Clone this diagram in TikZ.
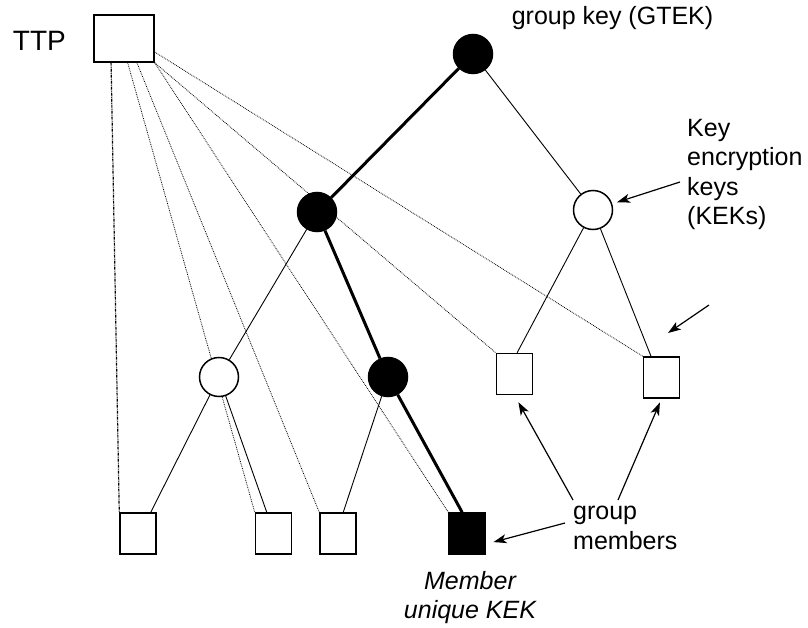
\documentclass[tikz,border=0pt]{standalone}
\usepackage{fontspec}
\setmainfont{Liberation Sans}
\usetikzlibrary{arrows.meta,calc,backgrounds}
\begin{document}
\begin{tikzpicture}[x=1pt,y=-1pt,
  lbl/.style={inner sep=0pt,font=\fontsize{25}{29.5}\selectfont},
  sqnode/.style={draw,line width=1.5pt,fill=white,inner sep=0pt,minimum width=36pt,minimum height=41pt},
  ttpbox/.style={draw,line width=1.5pt,fill=white,inner sep=0pt,minimum width=60pt,minimum height=47pt},
  fcirc/.style={circle,draw,line width=1.5pt,fill=black,inner sep=0pt,minimum size=39pt},
  ocirc/.style={circle,draw,line width=1.5pt,fill=white,inner sep=0pt,minimum size=39pt},
  thickedge/.style={line width=3pt},
  thinedge/.style={line width=0.9pt},
  dotline/.style={line width=0.8pt,densely dotted},
  dashdotline/.style={line width=1.2pt,dash pattern=on 3pt off 1pt on 1pt off 1pt},
  arr/.style={line width=1.2pt,-{Stealth[length=13pt,width=9pt,inset=3.5pt]}}]
\useasboundingbox (0,0) rectangle (808,628);
% nodes
\node[ttpbox] (TTP) at (124,38.5) {};
\node[lbl,anchor=base east,font=\fontsize{28}{32}\selectfont] (ttplbl) at (66,50.5) {TTP};
\node[fcirc] (root) at (473,54) {};
\node[fcirc] (L1) at (317,212) {};
\node[ocirc] (R1) at (593,210) {};
\node[ocirc] (LL) at (219,377) {};
\node[fcirc] (LR) at (388,377) {};
\node[sqnode] (s1) at (138,533.5) {};
\node[sqnode] (s2) at (273.5,533.5) {};
\node[sqnode] (s3) at (338,533.5) {};
\node[sqnode,fill=black] (s4) at (467,533.5) {};
\node[sqnode] (sA) at (514.5,374) {};
\node[sqnode] (sB) at (661.5,377.5) {};
% labels
\node[lbl,anchor=base] (gtek) at (612.5,25) {group key (GTEK)};
\node[lbl,align=left,anchor=north west] (keks) at (687,119) {Key\\encryption\\keys\\(KEKs)};
\node[lbl,align=left,anchor=north west] (gm) at (573,506) {group\\members};
\node[lbl,align=center,anchor=north,font=\fontsize{25}{29}\selectfont\itshape] (muk) at (470,571) {Member\\unique KEK};
% arrows
\coordinate (k1) at (680,182);
\coordinate (k2) at (709,305);
\coordinate (k2e) at (668,333);
\coordinate (g1) at (573,500);
\coordinate (g2) at (618,500);
\coordinate (g3) at (565,523);
\draw[arr,shorten >=5pt] (k1) -- (R1);
\draw[arr] (k2) -- (k2e);
\draw[arr,shorten >=8pt] (g1) -- (sA.south);
\draw[arr,shorten >=4pt] (g2) -- (sB.south);
\draw[arr,shorten >=8pt] (g3) -- ($(s4.east)!0.5!(s4.south east)$);
% connectors behind nodes
\begin{scope}[on background layer]
\fill[white] (0,0) rectangle (808,628);
\draw[dashdotline] ($(TTP.south west)!0.29!(TTP.south east)$) -- (s1.north west);
\draw[dotline] ($(TTP.south west)!0.56!(TTP.south east)$) -- (s2.north west);
\draw[dotline] ($(TTP.south west)!0.71!(TTP.south east)$) -- (s3.north west);
\draw[dotline] (TTP.south east) -- (s4.north west);
\draw[dotline] (TTP.south east) -- (sA.north west);
\draw[dotline] ($(TTP.north east)!0.78!(TTP.south east)$) -- (sB.north west);
\draw[thickedge] (root) -- (L1);
\draw[thickedge] (L1) -- (LR);
\draw[thickedge] (LR) -- ($(s4.north west)!0.37!(s4.north east)$);
\draw[thinedge] (root) -- (R1);
\draw[thinedge] (L1) -- (LL);
\draw[thinedge] (LL) -- ($(s1.north west)!0.84!(s1.north east)$);
\draw[thinedge] (LL) -- ($(s2.north west)!0.32!(s2.north east)$);
\draw[thinedge] (LR) -- ($(s3.north west)!0.64!(s3.north east)$);
\draw[thinedge] (R1) -- ($(sA.north west)!0.57!(sA.north east)$);
\draw[thinedge] (R1) -- ($(sB.north west)!0.22!(sB.north east)$);
\end{scope}
\end{tikzpicture}
\end{document}
